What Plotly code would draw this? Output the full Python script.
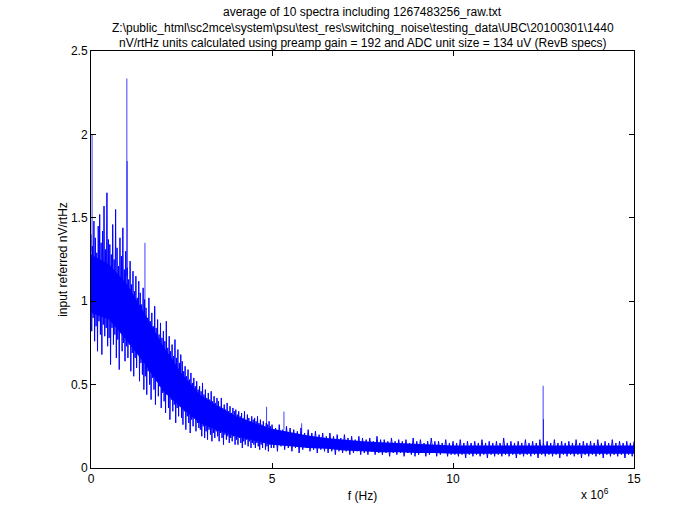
import numpy as np
import plotly.graph_objects as go

# ---------------- data (frequencies in MHz, values in nV/rtHz) ----------------
env_freq_mhz = [0, 0.5, 1, 1.5, 2, 2.5, 3, 3.5, 4, 4.5, 5, 5.5, 6, 6.5, 7, 7.5, 8,
                8.5, 9, 9.5, 10, 10.5, 11, 11.5, 12, 12.5, 13, 13.5, 14, 14.5, 15]
# densest part of the noise band
core_top = [1.28, 1.22, 1.10, 0.92, 0.73, 0.57, 0.44, 0.37, 0.31, 0.27, 0.235, 0.215,
            0.195, 0.18, 0.17, 0.16, 0.155, 0.15, 0.145, 0.14, 0.135, 0.135, 0.135,
            0.135, 0.135, 0.135, 0.135, 0.135, 0.135, 0.135, 0.135]
core_bottom = [0.93, 0.89, 0.76, 0.62, 0.46, 0.36, 0.27, 0.225, 0.19, 0.165, 0.14, 0.13,
               0.12, 0.115, 0.105, 0.10, 0.095, 0.095, 0.09, 0.09, 0.085, 0.085, 0.085,
               0.085, 0.085, 0.085, 0.085, 0.085, 0.085, 0.085, 0.085]

# spectrum samples, 0 - 5 MHz every 0.02 MHz (251 values)
noise_low_f = [
    1.40, 0.82, 1.33, 0.90, 1.48, 0.76, 1.38, 0.85, 1.29, 0.70, 1.45, 0.88, 1.52,
    0.80, 1.35, 0.68, 1.42, 0.86, 1.57, 0.79, 1.31, 0.84, 1.65, 0.73, 1.37,
    0.78, 1.34, 0.62, 1.28, 0.84, 1.46, 0.74, 1.25, 0.80, 1.55, 0.66, 1.32, 0.77,
    1.21, 0.59, 1.38, 0.82, 1.27, 0.70, 1.44, 0.75, 1.19, 0.64, 1.30, 0.73,
    1.20, 0.66, 1.13, 0.74, 1.24, 0.58, 1.10, 0.69, 1.18, 0.55, 1.06, 0.66, 1.15,
    0.60, 1.02, 0.71, 1.12, 0.52, 1.05, 0.63, 0.98, 0.56, 1.08, 0.47, 1.01,
    0.55, 0.96, 0.44, 0.90, 0.58, 1.02, 0.50, 0.88, 0.41, 0.93, 0.54, 0.85, 0.47,
    0.97, 0.38, 0.84, 0.52, 0.89, 0.43, 0.80, 0.49, 0.87, 0.36, 0.78, 0.45,
    0.82, 0.40, 0.76, 0.33, 0.88, 0.44, 0.72, 0.36, 0.79, 0.29, 0.70, 0.41, 0.74,
    0.34, 0.67, 0.38, 0.77, 0.27, 0.66, 0.36, 0.71, 0.31, 0.63, 0.37, 0.68,
    0.30, 0.64, 0.26, 0.58, 0.34, 0.61, 0.23, 0.55, 0.31, 0.59, 0.27, 0.53, 0.21,
    0.57, 0.29, 0.51, 0.25, 0.54, 0.30, 0.49, 0.22, 0.52, 0.27, 0.47, 0.24,
    0.49, 0.23, 0.46, 0.19, 0.51, 0.25, 0.44, 0.18, 0.47, 0.22, 0.42, 0.17, 0.45,
    0.23, 0.41, 0.20, 0.46, 0.16, 0.40, 0.21, 0.43, 0.18, 0.39, 0.22, 0.42,
    0.19, 0.40, 0.16, 0.37, 0.21, 0.42, 0.18, 0.36, 0.14, 0.38, 0.20, 0.35, 0.17,
    0.39, 0.19, 0.34, 0.15, 0.37, 0.18, 0.33, 0.16, 0.36, 0.19, 0.34, 0.14,
    0.35, 0.17, 0.32, 0.14, 0.34, 0.18, 0.31, 0.15, 0.33, 0.12, 0.30, 0.16, 0.34,
    0.14, 0.29, 0.17, 0.32, 0.13, 0.30, 0.16, 0.28, 0.12, 0.31, 0.15, 0.29,
    0.14, 0.30, 0.12, 0.28, 0.15, 0.31, 0.13, 0.27, 0.11, 0.29, 0.14, 0.26, 0.12,
    0.28, 0.15, 0.25, 0.11, 0.27, 0.13, 0.26, 0.10, 0.28, 0.14, 0.25, 0.12,
    0.26,
]

# spectrum samples, 5.05 - 15 MHz every 0.05 MHz (200 values)
noise_high_f = [
    0.12, 0.24, 0.10, 0.26, 0.13, 0.23, 0.11, 0.25, 0.12, 0.24,
    0.10, 0.23, 0.12, 0.22, 0.09, 0.24, 0.11, 0.21, 0.12, 0.23,
    0.10, 0.21, 0.11, 0.22, 0.09, 0.20, 0.11, 0.21, 0.10, 0.19,
    0.09, 0.21, 0.10, 0.19, 0.08, 0.20, 0.10, 0.18, 0.09, 0.20,
    0.10, 0.18, 0.08, 0.19, 0.09, 0.17, 0.10, 0.19, 0.08, 0.18,
    0.09, 0.17, 0.08, 0.18, 0.10, 0.16, 0.08, 0.19, 0.09, 0.17,
    0.08, 0.17, 0.09, 0.16, 0.07, 0.18, 0.09, 0.16, 0.08, 0.17,
    0.09, 0.16, 0.07, 0.17, 0.09, 0.15, 0.08, 0.18, 0.07, 0.16,
    0.08, 0.17, 0.09, 0.15, 0.07, 0.16, 0.08, 0.18, 0.09, 0.16,
    0.07, 0.16, 0.08, 0.15, 0.09, 0.17, 0.07, 0.15, 0.08, 0.16,
    0.08, 0.15, 0.07, 0.17, 0.08, 0.15, 0.06, 0.16, 0.08, 0.15,
    0.07, 0.16, 0.08, 0.15, 0.07, 0.17, 0.08, 0.15, 0.06, 0.16,
    0.08, 0.15, 0.07, 0.16, 0.08, 0.15, 0.07, 0.18, 0.08, 0.15,
    0.07, 0.16, 0.08, 0.15, 0.06, 0.16, 0.08, 0.15, 0.07, 0.17,
    0.08, 0.15, 0.07, 0.16, 0.08, 0.15, 0.06, 0.17, 0.08, 0.15,
    0.07, 0.16, 0.08, 0.15, 0.07, 0.17, 0.08, 0.15, 0.06, 0.16,
    0.08, 0.15, 0.07, 0.16, 0.08, 0.15, 0.07, 0.17, 0.08, 0.15,
    0.06, 0.16, 0.08, 0.15, 0.07, 0.16, 0.08, 0.15, 0.07, 0.17,
    0.08, 0.15, 0.06, 0.16, 0.08, 0.15, 0.07, 0.17, 0.08, 0.15,
    0.07, 0.16, 0.08, 0.15, 0.06, 0.16, 0.08, 0.15, 0.07, 0.16,
]

spike_freq_mhz = [0.03, 0.99, 1.0, 1.49, 4.85, 5.33, 5.82, 12.49, 12.5]
spike_top = [2.0, 2.335, 1.84, 1.35, 0.367, 0.338, 0.268, 0.493, 0.293]
spike_base = [1.30, 1.15, 1.15, 0.95, 0.25, 0.23, 0.21, 0.14, 0.14]

x_tick_vals_mhz = [0, 5, 10, 15]
x_tick_labels = ["0", "5", "10", "15"]

title_lines = [
    "average of 10 spectra including 1267483256_raw.txt",
    r"Z:\public_html\sc2mce\system\psu\test_res\switching_noise\testing_data\UBC\20100301\1440",
    "nV/rtHz units calculated using preamp gain = 192 and ADC unit size = 134 uV (RevB specs)",
]
title_line_y = [1.0935, 1.0552, 1.0192]

# ---------------- figure ----------------
MHZ = 1e6
FONT = "Liberation Sans, Arial, sans-serif"
BLUE = "rgb(0,0,255)"
env_f = np.array(env_freq_mhz) * MHZ
noise_f = np.concatenate([np.linspace(0, 5, len(noise_low_f)),
                          np.linspace(5.05, 15, len(noise_high_f))]) * MHZ
noise_y = noise_low_f + noise_high_f

fig = go.Figure()

# dense core of the noise band
fig.add_trace(go.Scatter(x=env_f, y=core_bottom, mode="lines",
                         line=dict(width=0, color=BLUE),
                         showlegend=False, hoverinfo="skip"))
fig.add_trace(go.Scatter(x=env_f, y=core_top, mode="lines", fill="tonexty",
                         fillcolor=BLUE, line=dict(width=0, color=BLUE),
                         showlegend=False, hoverinfo="skip"))

# jagged spectrum samples
fig.add_trace(go.Scatter(x=noise_f, y=noise_y, mode="lines",
                         line=dict(width=1, color=BLUE), showlegend=False))

# narrow spectral lines
sx, sy = [], []
for f, b, t in zip(spike_freq_mhz, spike_base, spike_top):
    sx += [f * MHZ, f * MHZ, None]
    sy += [b, t, None]
fig.add_trace(go.Scatter(x=sx, y=sy, mode="lines",
                         line=dict(width=1, color="rgba(0,0,255,0.75)"),
                         showlegend=False))

axis_common = dict(showline=True, linecolor="black", linewidth=1, mirror="ticks",
                   ticks="inside", ticklen=5, tickcolor="black", showgrid=False,
                   zeroline=False, tickfont=dict(family=FONT, size=12, color="black"))

fig.update_xaxes(range=[0, 15 * MHZ], tickvals=[v * MHZ for v in x_tick_vals_mhz],
                 ticktext=x_tick_labels,
                 title=dict(text="f (Hz)", standoff=6,
                            font=dict(family=FONT, size=12, color="black")),
                 **axis_common)
fig.update_yaxes(range=[0, 2.5], dtick=0.5,
                 title=dict(text="input referred nV/rtHz", standoff=0,
                            font=dict(family=FONT, size=12, color="black")),
                 **axis_common)

annotations = [dict(text=t, xref="paper", yref="paper", x=0.5, y=yy,
                    xanchor="center", yanchor="middle", showarrow=False,
                    font=dict(family=FONT, size=12, color="black"))
               for t, yy in zip(title_lines, title_line_y)]
annotations.append(dict(text="x 10<sup>6</sup>", xref="paper", yref="paper",
                        x=0.928, y=-0.063, xanchor="center", yanchor="middle",
                        showarrow=False,
                        font=dict(family=FONT, size=12, color="black")))

fig.update_layout(
    width=700, height=525,
    margin=dict(l=91, r=66, t=51, b=57),
    paper_bgcolor="white", plot_bgcolor="white",
    font=dict(family=FONT, size=12, color="black"),
    annotations=annotations,
)

fig.write_html("out.html")
